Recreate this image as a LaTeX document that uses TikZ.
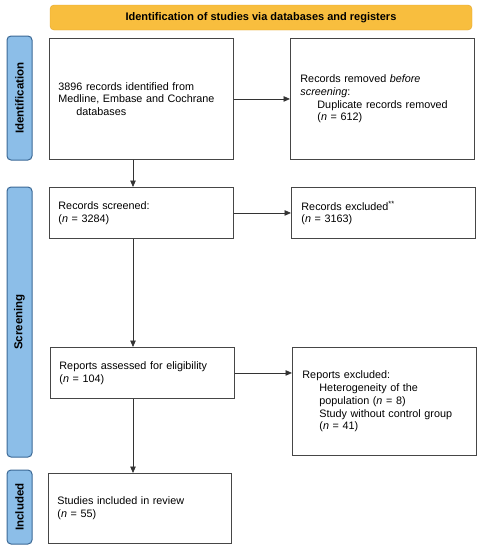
\documentclass[tikz,border=0pt]{standalone}
\usepackage{fontspec}
\setmainfont{Liberation Sans}
\usetikzlibrary{arrows.meta}
\definecolor{bannerorange}{RGB}{248,190,62}
\definecolor{banneredge}{RGB}{225,165,45}
\definecolor{phaseblue}{RGB}{140,190,232}
\definecolor{phaseedge}{RGB}{60,105,150}
\definecolor{boxline}{RGB}{70,70,70}

\begin{document}
\begin{tikzpicture}[x=1pt,y=-1pt,
  box/.style={draw=boxline, line width=0.9pt, anchor=north west, align=left,
    inner xsep=9pt, inner ysep=4pt, text width=#1,
    font=\fontsize{10.8}{12.8}\selectfont},
  phase/.style={draw=phaseedge, fill=phaseblue, line width=1pt, rounded corners=4pt,
    rotate=90, minimum height=25pt, inner sep=0pt,
    font=\bfseries\fontsize{11.5}{12}\selectfont},
  arr/.style={-{Triangle[length=6.5pt,width=5.5pt]}, line width=0.8pt, draw=black!80}]
  \useasboundingbox (0,0) rectangle (480,550);
  \node[draw=banneredge, fill=bannerorange, rounded corners=4pt, minimum width=422pt,
    minimum height=25pt, font=\bfseries\fontsize{11}{12}\selectfont] (banner) at (261,17.5)
    {Identification of studies via databases and registers};
  \node[phase, minimum width=124pt] (idphase) at (19.5,98) {Identification};
  \node[phase, minimum width=270pt] (scphase) at (19.5,322) {Screening};
  \node[phase, minimum width=74pt] (inphase) at (19.5,507) {Included};

  \node[box=166pt, minimum height=121pt] (ident) at (49,38)
    {3896 records identified from\\ Medline, Embase and Cochrane\\ \hspace*{18pt}databases};
  \node[box=164pt, minimum height=121pt, inner xsep=10pt] (removed) at (290,38)
    {Records removed \textit{before}\\ \textit{screening}:\\ \hspace*{17pt}Duplicate records removed\\ \hspace*{17pt}(\textit{n} = 612)};
  \node[box=166pt, minimum height=51pt] (screened) at (49,187)
    {Records screened:\\ (\textit{n} = 3284)};
  \node[box=164pt, minimum height=51pt, inner xsep=10pt] (excluded) at (291,187)
    {Records excluded\textsuperscript{**}\\ (\textit{n} = 3163)};
  \node[box=166pt, minimum height=51pt] (assessed) at (50,347)
    {Reports assessed for eligibility\\ (\textit{n} = 104)};
  \node[box=164pt, minimum height=108pt, inner xsep=10pt] (reportsexcl) at (292,347)
    {Reports excluded:\\ \hspace*{17pt}Heterogeneity of the\\ \hspace*{17pt}population (\textit{n} = 8)\\ \hspace*{17pt}Study without control group\\ \hspace*{17pt}(\textit{n} = 41)};
  \node[box=165pt, minimum height=70pt] (included) at (48,473)
    {Studies included in review\\ (\textit{n} = 55)};

  \coordinate (col) at (133,0);
  \draw[arr] (ident.east) -- (removed.west);
  \draw[arr] (screened.east) -- (excluded.west);
  \draw[arr] (assessed.east) -- (assessed.east -| reportsexcl.west);
  \draw[arr] (ident.south -| col) -- (screened.north -| col);
  \draw[arr] (screened.south -| col) -- (assessed.north -| col);
  \draw[arr] (assessed.south -| col) -- (included.north -| col);
\end{tikzpicture}
\end{document}
